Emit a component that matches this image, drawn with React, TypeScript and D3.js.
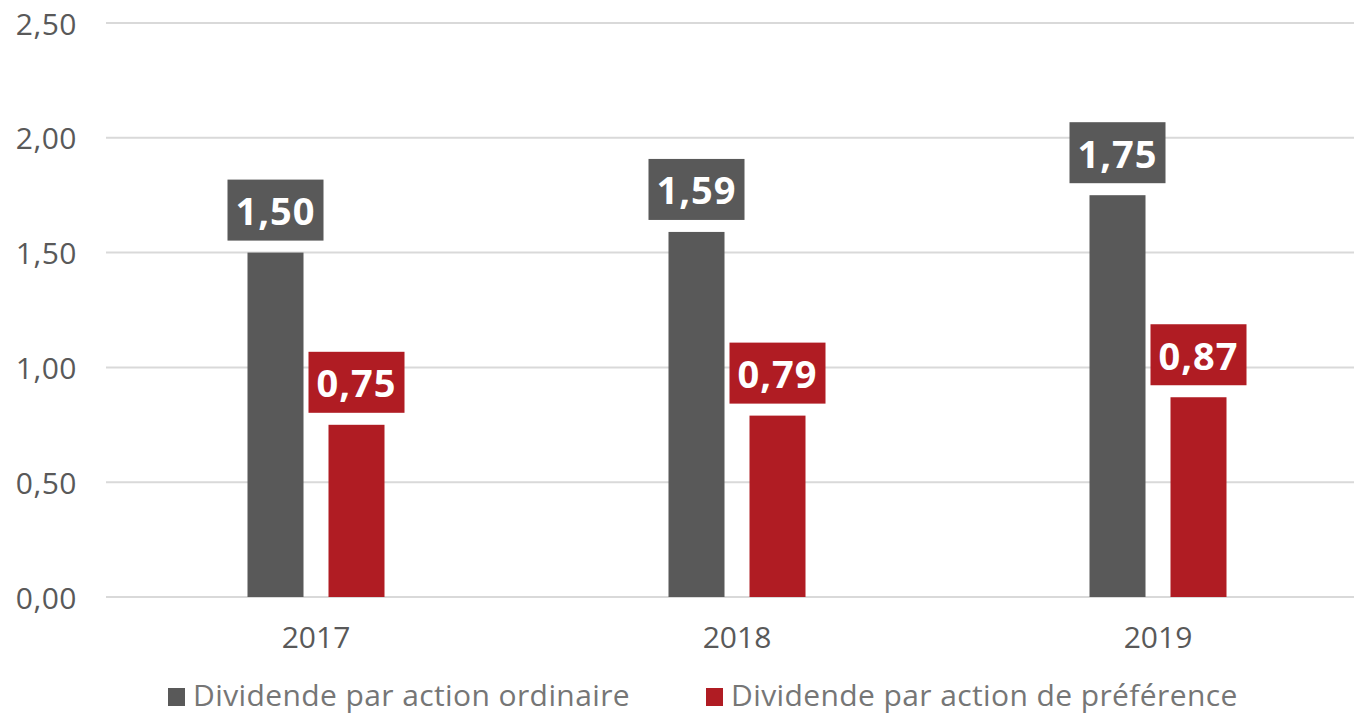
import React from "react";
import * as d3 from "d3";

const categories = ["2017", "2018", "2019"];
const seriesNames = ["Dividende par action ordinaire", "Dividende par action de préférence"];
const ordinaire = [1.5, 1.59, 1.75];
const preference = [0.75, 0.79, 0.87];
const yTicks = [0, 0.5, 1, 1.5, 2, 2.5];
const colors = ["#595959", "#B01C23"];

const W = 1355;
const H = 713;
const FONT = "'Open Sans', sans-serif";

export default function App() {
  const y = d3.scaleLinear().domain([0, 2.5]).range([597, 23]);
  const x = d3.scaleBand().domain(categories).range([105.5, 1368.5]);
  const fmt = (v: number) => d3.format(".2f")(v).replace(".", ",");
  const barW = 56;
  const offsets = [-40.5, 40.5];
  const series = [ordinaire, preference];

  return (
    <svg width={W} height={H} style={{ position: "absolute", left: 0, top: 0, background: "#fff" }}>
      {yTicks.map((t) => (
        <g key={t}>
          <line x1={106} x2={1354} y1={y(t)} y2={y(t)} stroke="#D9D9D9" strokeWidth={2} />
          <text x={77} y={y(t)} textAnchor="end" dominantBaseline="central" fontFamily={FONT} fontSize={30} letterSpacing={0.5} fill="#595959">
            {fmt(t)}
          </text>
        </g>
      ))}
      {categories.map((c, i) => {
        const cx = (x(c) as number) + x.bandwidth() / 2;
        return (
          <g key={c}>
            {series.map((s, j) => {
              const bx = cx + offsets[j];
              const top = y(s[i]);
              return (
                <g key={j}>
                  <rect x={bx - barW / 2} y={top} width={barW} height={y(0) - top} fill={colors[j]} />
                  <rect x={bx - 48} y={top - 73} width={96} height={61} fill={colors[j]} />
                  <text x={bx} y={top - 42.5} textAnchor="middle" dominantBaseline="central" fontFamily={FONT} fontWeight="bold" fontSize={38} letterSpacing={1} fill="#fff">
                    {fmt(s[i])}
                  </text>
                </g>
              );
            })}
            <text x={cx} y={636} textAnchor="middle" dominantBaseline="central" fontFamily={FONT} fontSize={30} fill="#595959">
              {c}
            </text>
          </g>
        );
      })}
      {seriesNames.map((n, j) => {
        const lx = [168, 706][j];
        return (
          <g key={n}>
            <rect x={lx} y={688} width={17} height={18} fill={colors[j]} />
            <text x={lx + 25} y={694} dominantBaseline="central" fontFamily={FONT} fontSize={30} letterSpacing={0.4} fill="#767676">
              {n}
            </text>
          </g>
        );
      })}
    </svg>
  );
}
